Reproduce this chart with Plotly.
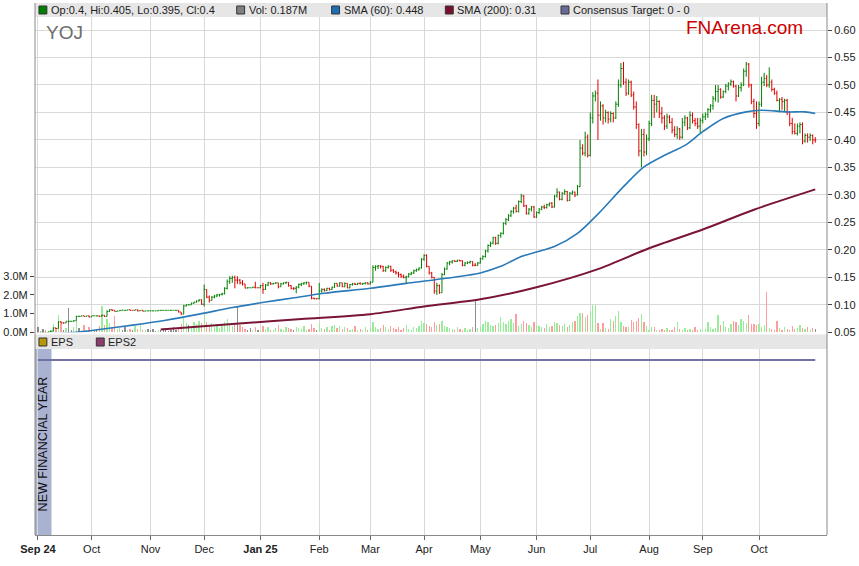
import pandas as pd
import plotly.graph_objects as go

# ---------------- data ----------------
dates = pd.bdate_range("2024-09-02", "2025-10-31")

open_ = [
    # Sep 24
    .050,.049,.050,.050,.049,.051,.052,.058,.057,.069,.067,.067,.070,.070,.070,.071,.079,.079,.080,.079,.080,
    # Oct
    .078,.080,.080,.080,.079,.081,.079,.088,.091,.090,.088,.089,.090,.090,.090,.091,.090,.090,.091,.089,.090,.0885,.089,
    # Nov
    .089,.089,.089,.089,.090,.090,.090,.090,.090,.090,.090,.090,.087,.083,.098,.100,.100,.103,.105,.107,.109,
    # Dec
    .101,.128,.114,.108,.114,.116,.118,.119,.120,.130,.142,.148,.150,.145,.145,.140,.138,.1305,.131,.131,.132,.131,
    # Jan 25
    .131,.135,.128,.136,.140,.138,.139,.140,.133,.138,.140,.141,.135,.130,.130,.132,.137,.139,.140,.141,.134,.112,.111,
    # Feb
    .111,.125,.128,.126,.130,.128,.132,.139,.134,.140,.133,.139,.131,.137,.138,.137,.139,.138,.139,.140,
    # Mar
    .138,.141,.168,.170,.171,.170,.162,.168,.170,.163,.160,.158,.155,.152,.150,.151,.156,.158,.162,.164,.167,
    # Apr
    .183,.190,.170,.158,.150,.125,.135,.122,.155,.165,.176,.178,.180,.179,.181,.180,.172,.176,.177,.179,.172,.172,
    # May
    .176,.184,.188,.198,.208,.212,.222,.212,.226,.230,.248,.255,.262,.270,.276,.270,.288,.298,.280,.266,.274,.278,
    # Jun
    .260,.268,.274,.278,.277,.282,.285,.278,.298,.305,.292,.303,.306,.290,.303,.305,.300,.315,.385,.376,.405,
    # Jul
    .372,.440,.480,.485,.445,.462,.440,.450,.438,.448,.440,.465,.500,.530,.505,.485,.505,.482,.460,.428,.380,.410,.378,
    # Aug
    .402,.430,.472,.465,.470,.448,.440,.425,.442,.432,.418,.410,.420,.405,.432,.440,.422,.445,.435,.430,.425,
    # Sep
    .435,.442,.446,.455,.462,.475,.488,.492,.478,.488,.498,.502,.506,.498,.480,.495,.500,.525,.538,.500,.470,.448,
    # Oct
    .430,.465,.505,.512,.500,.505,.492,.485,.472,.474,.470,.472,.450,.430,.415,.412,.425,.428,.398,.408,.405,.408,.400,
]
high = [
    .050,.050,.051,.050,.051,.053,.059,.058,.070,.070,.068,.070,.071,.070,.072,.080,.080,.080,.080,.080,.080,
    .080,.080,.080,.080,.082,.081,.090,.092,.092,.090,.089,.090,.091,.090,.091,.091,.090,.091,.091,.090,.090,.089,.089,
    .090,.089,.089,.090,.090,.090,.090,.090,.090,.090,.090,.090,.087,.100,.101,.101,.104,.105,.108,.110,.110,
    .137,.128,.117,.116,.118,.120,.120,.122,.132,.146,.152,.153,.153,.152,.147,.145,.138,.132,.131,.133,.142,.131,
    .136,.140,.138,.142,.141,.140,.141,.140,.140,.141,.142,.141,.136,.132,.134,.139,.140,.141,.142,.141,.134,.113,.112,
    .140,.130,.130,.131,.131,.133,.140,.139,.141,.140,.141,.139,.138,.140,.140,.140,.141,.140,.141,.141,
    .143,.172,.172,.172,.172,.171,.170,.172,.171,.165,.162,.160,.157,.155,.153,.158,.160,.164,.166,.168,.185,
    .192,.192,.170,.160,.150,.140,.137,.158,.168,.178,.180,.181,.181,.182,.182,.181,.178,.179,.180,.179,.176,.178,
    .186,.190,.200,.210,.215,.224,.224,.228,.232,.250,.258,.265,.272,.278,.282,.290,.302,.300,.282,.276,.280,.280,
    .270,.276,.280,.282,.284,.286,.287,.300,.312,.306,.305,.310,.307,.305,.308,.306,.318,.400,.392,.415,.410,
    .450,.487,.490,.510,.470,.465,.455,.452,.452,.450,.470,.510,.540,.542,.512,.510,.508,.488,.470,.430,.420,.420,.410,
    .435,.482,.482,.480,.472,.460,.445,.448,.445,.440,.425,.425,.422,.440,.445,.442,.452,.450,.440,.440,.440,
    .448,.450,.458,.465,.480,.500,.500,.494,.490,.502,.505,.510,.508,.500,.500,.505,.530,.542,.540,.502,.475,.470,
    .470,.515,.522,.518,.532,.510,.495,.490,.476,.478,.475,.475,.452,.440,.430,.430,.432,.432,.412,.412,.412,.410,.405,
]
low = [
    .048,.048,.049,.048,.049,.050,.052,.056,.057,.066,.066,.067,.068,.069,.070,.071,.078,.079,.079,.079,.077,
    .078,.080,.079,.078,.079,.078,.079,.087,.089,.088,.088,.089,.090,.090,.090,.090,.090,.090,.088,.089,.088,.0885,.089,
    .089,.089,.089,.089,.089,.090,.090,.090,.090,.090,.090,.086,.082,.083,.097,.099,.100,.102,.104,.106,.100,
    .097,.112,.104,.108,.112,.114,.115,.117,.119,.128,.138,.140,.130,.138,.137,.135,.130,.130,.131,.131,.130,.131,
    .130,.120,.127,.134,.136,.137,.138,.130,.133,.137,.138,.133,.128,.127,.121,.130,.134,.136,.137,.132,.110,.110,.110,
    .110,.122,.124,.125,.126,.127,.131,.133,.133,.132,.132,.130,.130,.135,.136,.136,.137,.136,.137,.137,
    .137,.141,.162,.165,.166,.160,.160,.166,.160,.158,.155,.150,.149,.148,.139,.150,.154,.156,.160,.162,.166,
    .180,.168,.155,.148,.120,.118,.120,.122,.154,.164,.172,.175,.178,.178,.179,.170,.170,.174,.175,.170,.170,.171,
    .175,.182,.186,.195,.205,.210,.209,.210,.222,.228,.245,.252,.260,.266,.268,.268,.285,.278,.264,.264,.270,.258,
    .258,.265,.272,.274,.275,.279,.276,.277,.295,.290,.290,.300,.288,.289,.300,.296,.299,.314,.372,.370,.368,
    .370,.430,.470,.400,.435,.428,.432,.430,.432,.432,.438,.460,.495,.500,.480,.482,.478,.455,.420,.370,.350,.370,.372,
    .398,.425,.440,.450,.440,.430,.418,.420,.430,.412,.405,.402,.400,.402,.425,.418,.420,.430,.425,.420,.412,
    .430,.436,.440,.450,.455,.470,.468,.475,.476,.485,.490,.498,.495,.470,.478,.488,.498,.515,.495,.465,.440,.420,
    .425,.460,.498,.496,.495,.488,.482,.470,.450,.455,.452,.445,.425,.410,.410,.408,.412,.392,.395,.395,.398,.392,.395,
]
close = [
    .049,.050,.050,.049,.051,.052,.058,.057,.069,.067,.067,.070,.070,.070,.071,.079,.079,.080,.079,.080,.078,
    .080,.080,.080,.079,.081,.079,.088,.091,.090,.088,.089,.090,.090,.090,.091,.090,.090,.091,.089,.090,.0885,.089,.089,
    .089,.089,.089,.090,.090,.090,.090,.090,.090,.090,.090,.087,.083,.098,.100,.100,.103,.105,.107,.109,.101,
    .128,.114,.108,.114,.116,.118,.119,.120,.130,.142,.148,.150,.145,.145,.140,.138,.1305,.131,.131,.132,.131,.131,
    .135,.128,.136,.140,.138,.139,.140,.133,.138,.140,.141,.135,.130,.130,.132,.137,.139,.140,.141,.134,.112,.111,.111,
    .125,.128,.126,.130,.128,.132,.139,.134,.140,.133,.139,.131,.137,.138,.137,.139,.138,.139,.140,.138,
    .141,.168,.170,.171,.170,.162,.168,.170,.163,.160,.158,.155,.152,.150,.151,.156,.158,.162,.164,.167,.183,
    .190,.170,.158,.150,.125,.135,.122,.155,.165,.176,.178,.180,.179,.181,.180,.172,.176,.177,.179,.172,.172,.176,
    .184,.188,.198,.208,.212,.222,.212,.226,.230,.248,.255,.262,.270,.276,.270,.288,.298,.280,.266,.274,.278,.260,
    .268,.274,.278,.277,.282,.285,.278,.298,.305,.292,.303,.306,.290,.303,.305,.300,.315,.385,.376,.405,.372,
    .440,.480,.485,.445,.462,.440,.450,.438,.448,.440,.465,.500,.530,.505,.485,.505,.482,.460,.428,.380,.410,.378,.402,
    .430,.472,.465,.470,.448,.440,.425,.442,.432,.418,.410,.420,.405,.432,.440,.422,.445,.435,.430,.425,.435,
    .442,.446,.455,.462,.475,.488,.492,.478,.488,.498,.502,.506,.498,.480,.495,.500,.525,.538,.500,.470,.448,.430,
    .465,.505,.512,.500,.505,.492,.485,.472,.474,.470,.472,.450,.430,.415,.412,.425,.428,.398,.408,.405,.408,.400,.400,
]
volume_m = [
    0.30,0.05,0.20,0.10,0.08,0.15,0.45,0.20,0.95,0.45,0.15,0.25,1.30,0.10,0.30,0.60,0.25,0.15,0.40,0.10,0.30,
    0.15,0.10,0.20,0.35,1.40,0.40,0.70,0.50,0.30,0.85,0.20,0.25,0.10,0.30,0.15,0.20,0.10,0.35,0.20,0.45,0.15,0.10,0.20,
    0.10,0.20,0.05,0.15,0.10,0.25,0.10,0.05,0.15,0.30,0.10,0.20,0.45,0.85,0.50,0.40,0.30,0.55,0.45,0.60,0.50,
    1.10,0.55,0.40,0.50,0.30,0.45,0.25,0.40,0.55,0.70,0.45,0.35,0.50,1.35,0.40,0.30,0.20,0.15,0.25,0.10,0.30,0.15,
    0.10,0.35,0.20,0.30,0.15,0.10,0.25,0.40,0.20,0.15,0.30,0.25,0.20,0.10,0.30,0.25,0.20,0.35,0.15,0.20,0.45,0.25,0.10,
    0.50,0.25,0.20,0.30,0.15,0.35,0.40,0.25,0.35,0.20,0.30,0.25,0.15,0.20,0.35,0.10,0.20,0.15,0.30,0.10,
    0.25,0.55,0.30,0.20,0.25,0.40,0.30,0.20,0.35,0.25,0.20,0.30,0.15,0.25,0.40,0.20,0.15,0.30,0.25,0.35,0.60,
    0.50,0.45,0.35,0.30,0.55,0.40,0.45,0.60,0.35,0.30,0.25,0.20,0.15,0.30,0.20,0.10,0.25,0.15,0.20,0.30,1.70,0.25,
    0.30,0.45,0.60,0.55,0.40,0.35,0.40,0.50,0.80,0.55,0.45,0.60,0.70,0.50,1.00,0.35,0.45,0.60,0.50,0.40,0.30,0.55,
    0.40,0.35,0.30,0.25,0.45,0.30,0.35,0.55,0.50,0.40,0.35,0.45,0.30,0.40,0.55,0.60,0.85,1.05,1.05,0.80,0.93,
    1.15,1.45,1.45,0.50,0.20,0.50,0.25,0.20,0.70,0.60,0.85,1.15,0.55,0.35,0.30,0.30,0.65,0.55,0.60,0.75,1.00,0.55,0.35,
    0.10,0.30,0.28,0.10,0.10,0.20,0.15,0.25,0.10,0.15,0.30,0.55,0.20,0.15,0.25,0.10,0.20,0.15,0.30,0.10,0.20,
    0.15,0.20,0.55,0.30,0.20,0.25,0.90,0.40,0.60,0.30,0.25,0.45,0.60,0.55,0.40,0.70,0.60,0.50,0.90,0.45,0.45,0.40,
    0.45,0.30,0.40,2.15,0.25,0.20,0.15,0.60,0.25,0.15,0.30,0.20,0.15,0.35,0.20,0.25,0.40,0.25,0.20,0.30,0.15,0.25,0.187,
]

sma60_dates = ["2024-09-02","2024-09-23","2024-10-04","2024-10-23","2024-11-11","2024-11-28",
               "2024-12-17","2025-01-03","2025-01-17","2025-02-05","2025-03-03","2025-03-21",
               "2025-04-08","2025-05-01","2025-05-13","2025-05-23","2025-06-02","2025-06-11",
               "2025-06-24","2025-07-04","2025-07-18","2025-07-30","2025-08-11","2025-08-21",
               "2025-09-01","2025-09-11","2025-09-24","2025-10-02","2025-10-16","2025-10-27","2025-10-31"]
sma60_vals = [0.047,0.050,0.055,0.063,0.072,0.083,0.095,0.105,0.112,0.121,0.130,0.139,
              0.146,0.158,0.170,0.188,0.196,0.206,0.230,0.265,0.315,0.351,0.372,0.390,
              0.415,0.439,0.451,0.454,0.451,0.451,0.448]

sma200_dates = ["2024-11-07","2024-12-17","2025-01-23","2025-03-03","2025-04-01","2025-05-01",
                "2025-06-02","2025-07-04","2025-08-01","2025-09-01","2025-09-29","2025-10-31"]
sma200_vals = [0.055,0.065,0.074,0.083,0.097,0.110,0.132,0.165,0.203,0.237,0.273,0.310]

eps_values = [0.0] * len(dates)

tick_labels = ["<b>Sep 24</b>","Oct","Nov","Dec","<b>Jan 25</b>","Feb","Mar","Apr",
               "May","Jun","Jul","Aug","Sep","Oct"]
price_ticks = [0.05,0.10,0.15,0.20,0.25,0.30,0.35,0.40,0.45,0.50,0.55,0.60]
vol_ticks = [0, 1, 2, 3]
vol_tick_labels = ["0.0M","1.0M","2.0M","3.0M"]

top_legend = [("Op:0.4, Hi:0.405, Lo:0.395, Cl:0.4", "#008000"),
              ("Vol: 0.187M", "#808080"),
              ("SMA (60): 0.448", "#1f6db5"),
              ("SMA (200): 0.31", "#7a0f2e"),
              ("Consensus Target: 0 - 0", "#6b6b9b")]
low_legend = [("EPS", "#b8960c"), ("EPS2", "#8e3b6e")]

n = len(dates)
assert all(len(a) == n for a in (open_, high, low, close, volume_m)), [len(a) for a in (open_, high, low, close, volume_m)]

# ---------------- geometry helpers ----------------
W, H = 859, 566
L, R, T, B = 31, 832, 3, 535
def px(xp): return (xp - L) / (R - L)
def py(yp): return (B - yp) / (B - T)

FONT = "Liberation Sans, Arial, sans-serif"
GRID = "#d9d9d9"

x_idx = list(range(n))
date_pos = {d: i for i, d in enumerate(dates)}
month_pos = []
prev = None
for i, d in enumerate(dates):
    if (d.year, d.month) != prev:
        month_pos.append(i)
        prev = (d.year, d.month)

sma60_x = [date_pos[pd.Timestamp(d)] for d in sma60_dates]
sma200_x = [date_pos[pd.Timestamp(d)] for d in sma200_dates]

vol_colors = []
for i in range(n):
    if i == 0 or round(close[i], 3) == round(close[i - 1], 3):
        vol_colors.append("#8c8c8c")
    elif close[i] > close[i - 1]:
        vol_colors.append("#98ee98")
    else:
        vol_colors.append("#ff9c9c")

# pixel-derived axis extents
main_top_px, main_bot_px = 17, 332.3
x_per_day = 2.586
x0 = (L - 34) / x_per_day
x1 = (R - 34) / x_per_day
price_px_per_unit = (332.3 - 30) / 0.55
price_top = 0.05 + (main_bot_px - main_top_px) / price_px_per_unit
vol_top = (main_bot_px - main_top_px) / 18.7

fig = go.Figure()
fig.add_trace(go.Bar(x=x_idx, y=volume_m, marker=dict(color=vol_colors, line=dict(width=0)),
                     width=0.5, xaxis="x2", yaxis="y", hoverinfo="skip"))
fig.add_trace(go.Scatter(x=sma200_x, y=sma200_vals, mode="lines", xaxis="x2", yaxis="y2",
                         line=dict(color="#7a1535", width=2, shape="spline", smoothing=0.8)))
fig.add_trace(go.Scatter(x=sma60_x, y=sma60_vals, mode="lines", xaxis="x2", yaxis="y2",
                         line=dict(color="#2a7ab9", width=1.6, shape="spline", smoothing=0.8)))
fig.add_trace(go.Ohlc(x=x_idx, open=open_, high=high, low=low, close=close, xaxis="x2", yaxis="y2",
                      increasing=dict(line=dict(color="#008000", width=1)),
                      decreasing=dict(line=dict(color="#dd0000", width=1)),
                      tickwidth=0.4))
fig.add_trace(go.Scatter(x=x_idx, y=eps_values, mode="lines", xaxis="x", yaxis="y3",
                         line=dict(color="#7272a6", width=2)))

main_dom = [py(main_bot_px), py(main_top_px)]
low_dom = [0, py(349)]

fig.update_layout(
    width=W, height=H, autosize=False,
    margin=dict(l=L, r=W - R, t=T, b=H - B, pad=0),
    paper_bgcolor="white", plot_bgcolor="white",
    showlegend=False, bargap=0, hovermode=False,
    font=dict(family=FONT, size=11, color="#222"),
    xaxis=dict(domain=[0, 1], anchor="y3", range=[x0, x1], tickmode="array",
               tickvals=month_pos, ticktext=tick_labels, ticks="outside", ticklen=4,
               tickcolor="#666", showgrid=True, gridcolor=GRID, showline=True,
               linecolor="#8a8a8a", zeroline=False, rangeslider=dict(visible=False),
               tickfont=dict(family=FONT, size=11, color="#222")),
    xaxis2=dict(domain=[0, 1], anchor="y", matches="x", range=[x0, x1], tickmode="array",
                tickvals=month_pos, showticklabels=False, ticks="", showgrid=True,
                gridcolor=GRID, showline=False, zeroline=False, rangeslider=dict(visible=False)),
    yaxis=dict(domain=main_dom, anchor="x2", range=[0, vol_top], tickmode="array",
               tickvals=vol_ticks, ticktext=vol_tick_labels, ticks="outside", ticklen=4,
               tickcolor="#444", side="left", showgrid=False, zeroline=False, showline=False,
               tickfont=dict(family=FONT, size=11, color="#222")),
    yaxis2=dict(overlaying="y", anchor="x2", side="right", range=[0.05, price_top],
                tickmode="array", tickvals=price_ticks, tickformat=".2f", ticks="outside",
                ticklen=4, tickcolor="#444", showgrid=True, gridcolor=GRID, zeroline=False,
                showline=False, tickfont=dict(family=FONT, size=11, color="#222")),
    yaxis3=dict(domain=low_dom, anchor="x", range=[-16, 1], showticklabels=False,
                showgrid=False, zeroline=False, ticks=""),
)

shapes = []
# legend bars
shapes.append(dict(type="rect", xref="paper", yref="paper", x0=0, x1=1, y0=py(17), y1=py(3),
                   fillcolor="#e6e6e6", line=dict(width=0), layer="above"))
shapes.append(dict(type="rect", xref="paper", yref="paper", x0=0, x1=1, y0=py(349), y1=py(334.5),
                   fillcolor="#e6e6e6", line=dict(width=0), layer="above"))
# NEW FINANCIAL YEAR band
shapes.append(dict(type="rect", xref="x", yref="paper", x0=x0, x1=(47.7 - 34) / x_per_day,
                   y0=0, y1=py(349), fillcolor="#a9b2d0", line=dict(width=0), layer="below"))
# frame
shapes.append(dict(type="line", xref="paper", yref="paper", x0=0, x1=0, y0=0, y1=1,
                   line=dict(color="#8a8a8a", width=1)))
shapes.append(dict(type="line", xref="paper", yref="paper", x0=1, x1=1, y0=0, y1=1,
                   line=dict(color="#8a8a8a", width=1)))

annotations = []
top_x = [35, 235, 331, 446, 563]
for (txt, col), sx in zip(top_legend, top_x):
    shapes.append(dict(type="rect", xref="paper", yref="paper", x0=px(sx), x1=px(sx + 8),
                       y0=py(14), y1=py(6), fillcolor=col, line=dict(color="#333", width=1),
                       layer="above"))
    annotations.append(dict(text=txt, xref="paper", yref="paper", x=px(sx + 11), y=py(10),
                            xanchor="left", yanchor="middle", showarrow=False, borderpad=0,
                            font=dict(family=FONT, size=11, color="#222")))
low_x = [35, 93]
for (txt, col), sx in zip(low_legend, low_x):
    shapes.append(dict(type="rect", xref="paper", yref="paper", x0=px(sx), x1=px(sx + 8),
                       y0=py(346), y1=py(338), fillcolor=col, line=dict(color="#333", width=1),
                       layer="above"))
    annotations.append(dict(text=txt, xref="paper", yref="paper", x=px(sx + 11), y=py(342),
                            xanchor="left", yanchor="middle", showarrow=False, borderpad=0,
                            font=dict(family=FONT, size=11, color="#222")))

annotations.append(dict(text="YOJ", xref="paper", yref="paper", x=px(41), y=py(32),
                        xanchor="left", yanchor="middle", showarrow=False, borderpad=0,
                        font=dict(family=FONT, size=19, color="#6d6d6d")))
annotations.append(dict(text="FNArena.com", xref="paper", yref="paper", x=px(809), y=py(28),
                        xanchor="right", yanchor="middle", showarrow=False, borderpad=0,
                        font=dict(family=FONT, size=19, color="#cc0000")))
annotations.append(dict(text="NEW FINANCIAL YEAR", xref="paper", yref="paper", x=px(40),
                        y=py(443.5), xanchor="center", yanchor="middle", textangle=-90,
                        showarrow=False, borderpad=0,
                        font=dict(family=FONT, size=12.5, color="#111")))

fig.update_layout(shapes=shapes, annotations=annotations)
fig.write_html("out.html", config={"displayModeBar": False, "staticPlot": True})

# remove the browser's default page margin so the figure sits at the window origin
with open("out.html", "r", encoding="utf-8") as fh:
    page = fh.read()
page = page.replace("<head>", "<head><style>html,body{margin:0;padding:0;overflow:hidden;}</style>", 1)
with open("out.html", "w", encoding="utf-8") as fh:
    fh.write(page)
